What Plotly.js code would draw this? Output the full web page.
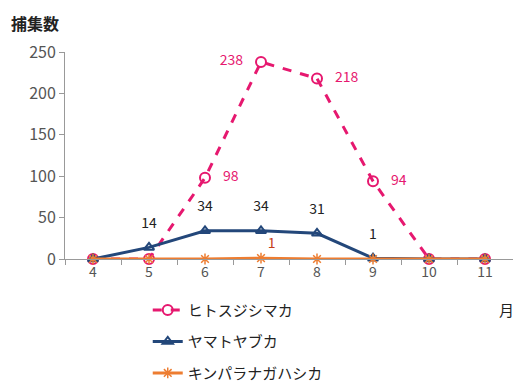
<!DOCTYPE html>
<html><head><meta charset="utf-8">
<script src="https://cdn.plot.ly/plotly-3.0.1.min.js"></script>
<style>body{margin:0;background:#fff}#c{width:513px;height:388px}</style>
</head><body><div id="c"></div>
<script>
const months = ["4","5","6","7","8","9","10","11"];
const hitosuji = [0,0,98,238,218,94,0,0];
const yamato = [0,14,34,34,31,1,0,0];
const kinpara = [0,0,0,1,0,0,0,0];
const names = ["ヒトスジシマカ","ヤマトヤブカ","キンパラナガハシカ"];
const hitoLabels = ["","","98","238","218","94","",""];
const hitoPos = ["middle right","middle right","middle right","middle left","middle right","middle right","middle right","middle right"];
const yamaLabels = ["","14","34","34","31","1","",""];
const kinLabels = ["","","","1","","","",""];
const F = "Noto Sans CJK JP, sans-serif";
const traces = [
 {x:months,y:hitosuji,name:names[0],legendgroup:"a",mode:"lines+markers",cliponaxis:false,
  line:{color:"#e6186f",width:3,dash:"dash"},marker:{symbol:"circle-open",size:10,color:"#e6186f",line:{width:2}}},
 {x:months,y:yamato,name:names[1],legendgroup:"b",mode:"lines+markers",cliponaxis:false,
  line:{color:"#23477a",width:3},marker:{symbol:"triangle-up-open",size:9,color:"#23477a",line:{width:2}}},
 {x:months,y:kinpara,name:names[2],legendgroup:"c",mode:"lines+markers+text",text:kinLabels,textposition:"top right",
  textfont:{color:"#c4401a",size:14,family:F},cliponaxis:false,
  line:{color:"#ed7d31",width:3},marker:{symbol:"asterisk-open",size:9,color:"#ed7d31",line:{width:1.5,color:"#ed7d31"}}},
 {x:months,y:hitosuji,mode:"markers+text",text:hitoLabels,textposition:hitoPos,showlegend:false,cliponaxis:false,
  textfont:{color:"#e6186f",size:14,family:F},marker:{size:27,opacity:0,color:"#fff"}},
 {x:months,y:yamato,mode:"markers+text",text:yamaLabels,textposition:"top center",showlegend:false,cliponaxis:false,
  textfont:{color:"#222",size:14,family:F},marker:{size:24,opacity:0,color:"#fff"}}
];
const layout = {
 width:513,height:388,margin:{l:65,r:0,t:52,b:129,autoexpand:false},
 paper_bgcolor:"#fff",plot_bgcolor:"#fff",
 font:{family:F,size:14,color:"#555"},
 showlegend:true,
 legend:{xref:"container",yref:"container",x:0.288,y:0.243,xanchor:"left",yanchor:"top",traceorder:"grouped",tracegroupgap:9,
   font:{family:F,size:15,color:"#222"},bgcolor:"rgba(0,0,0,0)"},
 xaxis:{type:"category",range:[-0.5,7.5],showline:true,linecolor:"#999",linewidth:1,ticks:"outside",tickson:"boundaries",
   ticklen:5,tickcolor:"#999",showgrid:false,zeroline:false,tickfont:{size:14,color:"#555"}},
 yaxis:{range:[0,250],dtick:50,showline:true,linecolor:"#999",ticks:"outside",ticklen:5,tickcolor:"#999",
   showgrid:false,zeroline:false,tickfont:{size:16,color:"#555"}},
 annotations:[
  {text:"<b>捕集数</b>",xref:"paper",yref:"paper",x:-0.125,y:1.14,xanchor:"left",yanchor:"middle",showarrow:false,font:{family:F,size:16,color:"#222"}},
  {text:"月",xref:"paper",yref:"paper",x:0.985,y:-0.245,xanchor:"center",yanchor:"middle",showarrow:false,font:{family:F,size:15,color:"#222"}}
 ]
};
Plotly.newPlot("c",traces,layout,{displayModeBar:false,staticPlot:true});
</script></body></html>
